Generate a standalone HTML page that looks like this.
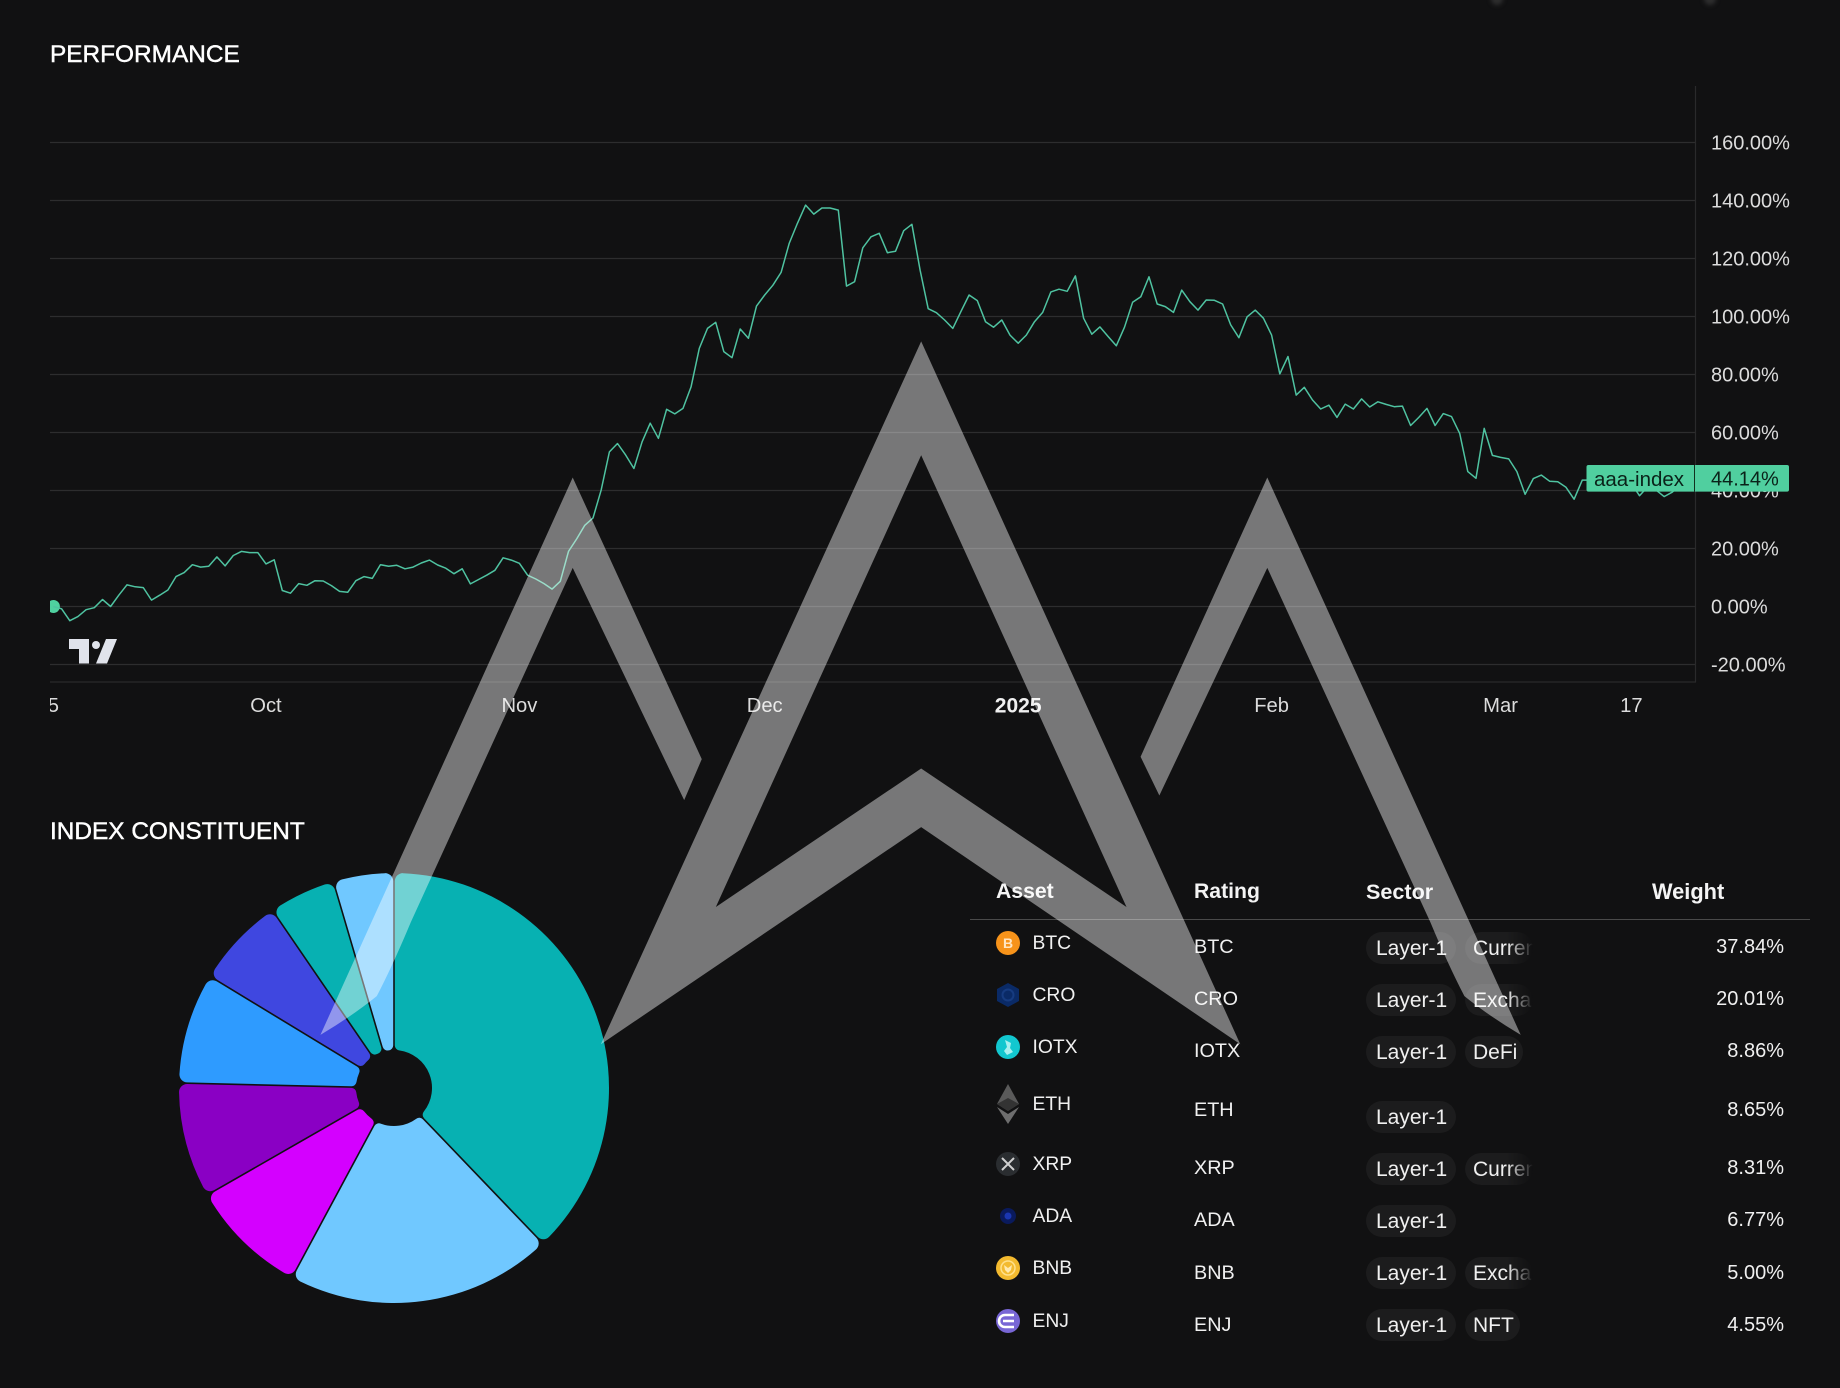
<!DOCTYPE html>
<html lang="en">
<head>
<meta charset="utf-8">
<title>Index performance and constituents</title>
<style>
html,body{margin:0;padding:0;background:#111112;}
#page{position:relative;width:1840px;height:1388px;overflow:hidden;background:#111112;font-family:"Liberation Sans",sans-serif;color:#f2f2f2;}
svg.layer{position:absolute;left:0;top:0;width:1840px;height:1388px;}
.title{position:absolute;left:50px;font-size:24.4px;line-height:30px;color:#fff;-webkit-text-stroke:.45px #fff;white-space:nowrap;}
.t{position:absolute;transform:translateY(calc(-50% + 1px));font-size:20px;line-height:24px;white-space:nowrap;color:#f0f0f0;}
.a{left:1032.5px;font-size:19.3px;}
.r{left:1194px;font-size:19.8px;}
.h{font-weight:bold;font-size:21.2px;color:#f4f4f4;}
.w{right:56px;text-align:right;}
.chip{position:absolute;transform:translateY(-50%);height:32px;line-height:34px;border-radius:16px;background:#1c1c1d;font-size:21px;color:#f0f0f0;padding:0 10px;box-sizing:border-box;white-space:nowrap;overflow:hidden;}
.c1{left:1366px;width:90px;}
.c2{left:1465px;padding:0 6px 0 8px;}
.fade{width:68px;-webkit-mask-image:linear-gradient(to right,#000 62%,transparent 100%);mask-image:linear-gradient(to right,#000 62%,transparent 100%);}
.ic{position:absolute;left:995px;width:26px;height:26px;transform:translateY(-50%);}
#rule{position:absolute;left:970px;top:919px;width:840px;height:1px;background:#4a4a4a;}
#wm{pointer-events:none;}
.mark{position:absolute;top:-7px;width:12px;height:12px;border-radius:50%;background:#2e2e2e;filter:blur(2px);}
</style>
</head>
<body>
<div id="page">
  <div class="mark" style="left:1491px"></div>
  <div class="mark" style="left:1704px"></div>
  <div class="title" style="top:40px">PERFORMANCE</div>
  <svg id="chart" class="layer" viewBox="0 0 1840 1388"></svg>
  <div class="title" style="top:817px">INDEX CONSTITUENT</div>
  <svg id="pie" class="layer" viewBox="0 0 1840 1388"></svg>

  <div>
    <div class="t h" style="left:996px;top:891px">Asset</div>
    <div class="t h" style="left:1194px;top:891px">Rating</div>
    <div class="t h" style="left:1366px;top:891px;font-size:21.6px">Sector</div>
    <div class="t h" style="left:1652px;top:891px;font-size:21.8px">Weight</div>
    <div id="rule"></div>

    <!-- BTC -->
    <svg class="ic" style="top:943px" viewBox="0 0 26 26"><circle cx="13" cy="13" r="12" fill="#f7931a"/><text x="13" y="18" text-anchor="middle" font-size="14" font-weight="bold" fill="#ffe6c4" font-family="Liberation Sans, sans-serif">B</text></svg>
    <div class="t a" style="top:943px">BTC</div>
    <div class="t r" style="top:946px">BTC</div>
    <div class="chip c1" style="top:948px">Layer-1</div>
    <div class="chip c2 fade" style="top:948px">Currency</div>
    <div class="t w" style="top:946px">37.84%</div>

    <!-- CRO -->
    <svg class="ic" style="top:995px" viewBox="0 0 26 26"><polygon points="13,1 24,7 24,19 13,25 2,19 2,7" fill="#0a2a66"/><circle cx="13" cy="13" r="5.5" fill="none" stroke="#163b80" stroke-width="2"/></svg>
    <div class="t a" style="top:995px">CRO</div>
    <div class="t r" style="top:998px">CRO</div>
    <div class="chip c1" style="top:1000px">Layer-1</div>
    <div class="chip c2 fade" style="top:1000px">Exchange</div>
    <div class="t w" style="top:998px">20.01%</div>

    <!-- IOTX -->
    <svg class="ic" style="top:1047px" viewBox="0 0 26 26"><circle cx="13" cy="13" r="12" fill="#12c7cf"/><path d="M10 6l6 3-1 5 3 4-6 3-3-4 3-4z" fill="#a8f0f0"/></svg>
    <div class="t a" style="top:1047px">IOTX</div>
    <div class="t r" style="top:1050px">IOTX</div>
    <div class="chip c1" style="top:1052px">Layer-1</div>
    <div class="chip c2" style="top:1052px">DeFi</div>
    <div class="t w" style="top:1050px">8.86%</div>

    <!-- ETH -->
    <svg class="ic" style="top:1104px;height:40px" viewBox="0 0 26 40"><polygon points="13,0 24,20 13,27 2,20" fill="#5a5a5a"/><polygon points="13,14 24,20 13,27 2,20" fill="#333"/><polygon points="2,23 13,30 24,23 13,40" fill="#6e6e6e"/></svg>
    <div class="t a" style="top:1104px">ETH</div>
    <div class="t r" style="top:1109px">ETH</div>
    <div class="chip c1" style="top:1117px">Layer-1</div>
    <div class="t w" style="top:1109px">8.65%</div>

    <!-- XRP -->
    <svg class="ic" style="top:1164px" viewBox="0 0 26 26"><circle cx="13" cy="13" r="12" fill="#2a2d30"/><path d="M7 7l6 6 6-6M7 19l6-6 6 6" fill="none" stroke="#d0d0d0" stroke-width="2"/></svg>
    <div class="t a" style="top:1164px">XRP</div>
    <div class="t r" style="top:1167px">XRP</div>
    <div class="chip c1" style="top:1169px">Layer-1</div>
    <div class="chip c2 fade" style="top:1169px">Currency</div>
    <div class="t w" style="top:1167px">8.31%</div>

    <!-- ADA -->
    <svg class="ic" style="top:1216px" viewBox="0 0 26 26"><circle cx="13" cy="13" r="8" fill="#0a1a5c"/><circle cx="13" cy="13" r="3.5" fill="#1a36b0"/></svg>
    <div class="t a" style="top:1216px">ADA</div>
    <div class="t r" style="top:1219px">ADA</div>
    <div class="chip c1" style="top:1221px">Layer-1</div>
    <div class="t w" style="top:1219px">6.77%</div>

    <!-- BNB -->
    <svg class="ic" style="top:1268px" viewBox="0 0 26 26"><circle cx="13" cy="13" r="12" fill="#f3ba2f"/><circle cx="13" cy="13" r="7" fill="none" stroke="#ffe08a" stroke-width="1.5"/><path d="M9 10l4 3 4-3-1 5-3 3-3-3z" fill="#ffe9ae"/></svg>
    <div class="t a" style="top:1268px">BNB</div>
    <div class="t r" style="top:1272px">BNB</div>
    <div class="chip c1" style="top:1273px">Layer-1</div>
    <div class="chip c2 fade" style="top:1273px">Exchange</div>
    <div class="t w" style="top:1272px">5.00%</div>

    <!-- ENJ -->
    <svg class="ic" style="top:1321px" viewBox="0 0 26 26"><circle cx="13" cy="13" r="12" fill="#7866d5"/><path d="M19 7H10a3 3 0 0 0 0 12h9M8 13h11" fill="none" stroke="#fff" stroke-width="2.6"/></svg>
    <div class="t a" style="top:1321px">ENJ</div>
    <div class="t r" style="top:1324px">ENJ</div>
    <div class="chip c1" style="top:1325px">Layer-1</div>
    <div class="chip c2" style="top:1325px">NFT</div>
    <div class="t w" style="top:1324px">4.55%</div>
  </div>

  <svg id="wm" class="layer" viewBox="0 0 1568 1183">
    <g fill="#ffffff" fill-opacity="0.43">
      <path fill-rule="evenodd" d="M785 291L1057 890L785 705L512 890ZM785 388L610 773L785 655L960 773Z"/>
      <path d="M488 407L598 647L583 682L488 484L350 786Q335 822 321 849Q300 866 273 882Z"/>
      <path d="M1080 407L972 645L988 678L1080 484L1219 786Q1234 822 1248 849Q1269 866 1296 882Z"/>
    </g>
  </svg>
</div>

<script>
/* Performance series: daily % change from the first point */
var performanceValues = [
  0,-0.8,-4.9,-3.5,-1.1,-0.4,2.4,0,3.9,7.5,
  6.8,6.5,2.2,3.9,5.7,10.3,11.7,14.4,13.6,13.9,
  17.1,14.0,17.6,19.0,18.6,18.6,14.7,16.1,5.5,4.6,
  7.9,7.3,8.9,8.8,7.2,5.2,4.9,8.9,10.3,9.7,
  14.4,13.9,14.2,13.0,13.6,15.0,16.0,14.3,13.2,11.3,
  13.0,7.8,9.3,10.8,12.5,16.8,16.0,14.9,10.8,9.5,
  7.9,6.0,8.7,19.0,23.3,28.0,30.5,40.2,53.3,56.2,
  52.2,47.6,56.8,63.2,58.0,68.0,66.4,68.3,75.8,89.0,
  95.9,98.0,87.9,85.8,95.7,92.5,103.6,107.4,110.8,115.2,
  125.2,132.1,138.4,135.3,137.4,137.4,136.7,110.5,112.0,123.7,
  127.5,128.7,122.0,122.5,129.6,131.8,116.0,102.7,101.3,98.8,
  95.9,101.7,107.4,105.5,98.2,96.3,98.8,93.6,90.8,93.6,
  98.2,101.4,108.5,109.4,108.7,114.0,99.4,93.9,96.4,93.1,
  89.9,96.3,104.9,106.8,113.7,104.3,103.4,101.4,109.1,105.1,
  102.2,105.7,105.6,104.3,97.1,92.7,99.9,102.2,99.4,93.6,
  80.2,86.2,72.9,75.6,71.2,68.1,69.4,65.2,69.8,68.1,
  71.6,68.8,70.6,69.7,68.9,69.1,62.4,65.2,68.3,62.4,
  66.5,65.5,59.7,46.5,44.2,61.4,52.1,51.4,50.9,46.5,
  38.7,44.1,45.3,43.2,43.0,41.1,37.0,43.6,43.6,43.0,
  42.5,42.7,42.2,42.5,38.2,41.3,40.2,37.9,39.4,42,44.14
];
var yTickValues = [160,140,120,100,80,60,40,20,0,-20];
var xTickLabels = ['5','Oct','Nov','Dec','2025','Feb','Mar','17'];
var xTickDays = [0,26,57,87,118,149,177,193];
var seriesName = 'aaa-index';
var lastValue = 44.14;

/* Constituent weights */
var assetNames = ['BTC','CRO','IOTX','ETH','XRP','ADA','BNB','ENJ'];
var assetWeights = [37.84,20.01,8.86,8.65,8.31,6.77,5.00,4.55];
var sliceColors = ['#07b1b2','#70c8ff','#d400ff','#8a00c4','#2e9bff','#3f47e0','#07b1b2','#70c8ff'];

var NS = 'http://www.w3.org/2000/svg';
function mk(parent, tag, attrs){
  var e = document.createElementNS(NS, tag);
  for (var k in attrs) e.setAttribute(k, attrs[k]);
  parent.appendChild(e);
  return e;
}
function xScale(day){ return 53.4 + day * 8.176; }
function yScale(v){ return 606.5 - v * 2.9; }

var chart = document.getElementById('chart');
var defs = mk(chart, 'defs', {});
var clip = mk(defs, 'clipPath', {id:'plot-clip'});
mk(clip, 'rect', {x:50, y:86, width:1645, height:596});
var xclip = mk(defs, 'clipPath', {id:'xlabel-clip'});
mk(xclip, 'rect', {x:50, y:682, width:1645, height:50});

yTickValues.forEach(function(v){
  var g = mk(chart, 'line', {x1:50, x2:1695, y1:yScale(v), y2:yScale(v), stroke:'#2d2d2e', 'stroke-width':1.2});
  
  
  var t = mk(chart, 'text', {x:1711, y:yScale(v) + 0.8, 'dominant-baseline':'central', fill:'#dcdcdc', 'font-size':20, 'font-family':'Liberation Sans, sans-serif'});
  t.textContent = v.toFixed(2) + '%';
  
  
});

var axisB = mk(chart, 'line', {x1:50, x2:1696, y1:682, y2:682, stroke:'#2a2a2b', 'stroke-width':1.2});


var axisR = mk(chart, 'line', {x1:1695.5, x2:1695.5, y1:86, y2:682, stroke:'#2a2a2b', 'stroke-width':1.2});



xTickLabels.forEach(function(label, i){
  var t = mk(chart, 'text', {x:xScale(xTickDays[i]), y:706, 'text-anchor':'middle', 'dominant-baseline':'central', fill: label === '2025' ? '#f0f0f0' : '#dcdcdc', 'font-weight': label === '2025' ? 'bold' : 'normal', 'font-size': label === '2025' ? 21 : 20.2, 'font-family':'Liberation Sans, sans-serif', 'clip-path':'url(#xlabel-clip)'});
  t.textContent = label;
  
  
});

var plot = mk(chart, 'g', {'clip-path':'url(#plot-clip)'});
var dot = mk(plot, 'circle', {cx:xScale(0), cy:yScale(performanceValues[0]), r:6.5, fill:'#4fd1a0'});


var d = performanceValues.map(function(v, i){ return (i ? 'L' : 'M') + xScale(i).toFixed(1) + ' ' + yScale(v).toFixed(1); }).join('');
var line = mk(plot, 'path', {d:d, fill:'none', stroke:'#4fc3a1', 'stroke-width':1.5, 'stroke-linejoin':'round'});



/* Watermark brand mark inside the plot */
var tv = mk(chart, 'g', {fill:'#e0e3eb'});


mk(tv, 'path', {d:'M69 639H89V663.5H79V649H69Z'});
mk(tv, 'circle', {cx:96, cy:645, r:4});
mk(tv, 'path', {d:'M106 639H117L107 663.5H96Z'});

/* Last-value label */
var lastY = 478.3;
var lab = mk(chart, 'rect', {x:1586.5, y:lastY - 13.3, width:202.5, height:26.6, rx:2, fill:'#50cf9f'});


var div = mk(chart, 'line', {x1:1694.5, x2:1694.5, y1:lastY - 13.3, y2:lastY + 13.3, stroke:'#11301f', 'stroke-width':1});


var ln = mk(chart, 'text', {x:1594, y:lastY + 1, 'dominant-baseline':'central', fill:'#0a2219', 'font-size':20.5, 'font-family':'Liberation Sans, sans-serif'});
ln.textContent = seriesName;


var lv = mk(chart, 'text', {x:1711, y:lastY + 1, 'dominant-baseline':'central', fill:'#0a2219', 'font-size':20, 'font-family':'Liberation Sans, sans-serif'});
lv.textContent = lastValue.toFixed(2) + '%';



/* Donut */
var pie = document.getElementById('pie');
var cx = 394, cy = 1088, R = 215, Ri = 38, rOut = 8, rIn = 5, gap = 0.8;
function polar(rad, a){
  return (cx + rad * Math.sin(a)).toFixed(2) + ' ' + (cy - rad * Math.cos(a)).toFixed(2);
}
function onSide(t, a, off){
  return (cx + t * Math.sin(a) + off * Math.cos(a)).toFixed(2) + ' ' + (cy - t * Math.cos(a) + off * Math.sin(a)).toFixed(2);
}
function arcTo(r, large, sweep, p){ return 'A' + r + ' ' + r + ' 0 ' + large + ' ' + sweep + ' ' + p; }
function slicePath(a0, a1){
  var half = (a1 - a0) / 2;
  var rc = R - rOut, oo = rOut + gap;
  var tO = Math.sqrt(rc * rc - oo * oo), thO = Math.atan2(oo, tO);
  var p = 'M' + onSide(tO, a0, gap);
  p += arcTo(rOut, 0, 1, polar(R, a0 + thO));
  p += arcTo(R, (a1 - a0 - 2 * thO) > Math.PI ? 1 : 0, 1, polar(R, a1 - thO));
  p += arcTo(rOut, 0, 1, onSide(tO, a1, -gap));
  var ic = Ri + rIn, oi = rIn + gap;
  var tI = Math.sqrt(ic * ic - oi * oi), thI = Math.atan2(oi, tI);
  if (thI < half) {
    p += 'L' + onSide(tI, a1, -gap);
    p += arcTo(rIn, 0, 1, polar(Ri, a1 - thI));
    p += arcTo(Ri, 0, 0, polar(Ri, a0 + thI));
    p += arcTo(rIn, 0, 1, onSide(tI, a0, gap));
  } else {
    var t = (rIn + gap) / Math.tan(half);
    p += 'L' + onSide(t, a1, -gap);
    p += arcTo(rIn, 0, 1, onSide(t, a0, gap));
  }
  return p + 'Z';
}
var total = assetWeights.reduce(function(a, b){ return a + b; }, 0);
var acc = 0;
assetWeights.forEach(function(w, i){
  var a0 = acc / total * 2 * Math.PI;
  acc += w;
  var a1 = acc / total * 2 * Math.PI;
  var s = mk(pie, 'path', {d:slicePath(a0, a1), fill:sliceColors[i]});
  
  
});
</script>
</body>
</html>
